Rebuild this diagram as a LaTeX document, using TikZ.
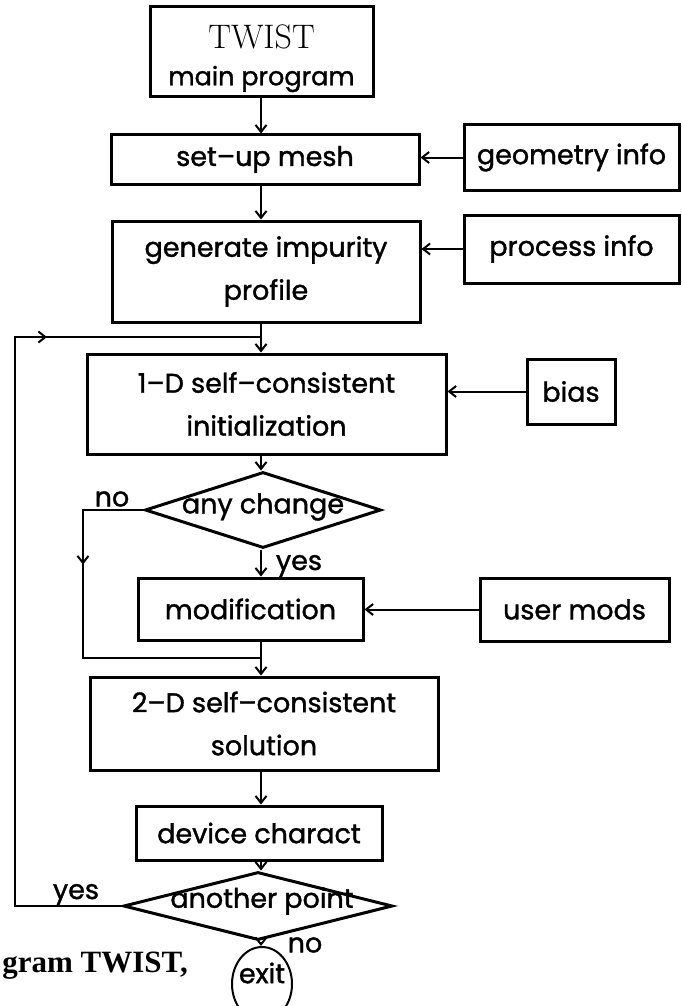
\documentclass[tikz,border=0pt]{standalone}
\usepackage{fontspec}
\setsansfont{Poppins}[FakeBold=1.3]
\newfontfamily\capfont{Liberation Serif}
\usetikzlibrary{arrows.meta,shapes.geometric,decorations.markings}
\begin{document}
\begin{tikzpicture}[x=1pt,y=-1pt,
  box/.style={draw, line width=3pt, inner sep=0pt, align=center,
    font=\sffamily\fontsize{27}{43}\selectfont},
  dia/.style={draw, diamond, line width=3pt, inner sep=0pt},
  txt/.style={inner sep=0pt, font=\sffamily\fontsize{27}{30}\selectfont},
  conn/.style={line width=2pt, -{Straight Barb[length=7pt,width=11pt]}},
  plain/.style={line width=2pt},
  midtip/.style={postaction=decorate, decoration={markings,
    mark=at position #1 with {\arrow{Straight Barb[length=7pt,width=11pt]}}}}]
\useasboundingbox (0,0) rectangle (681,1006);
\clip (0,0) rectangle (681,1006);

% main column
\node[box, minimum width=223pt, minimum height=90pt] (twist) at (261.5,52) {};
\node[inner sep=0pt, font=\fontsize{34}{34}\selectfont] (twistT) at (261.5,37) {TWIST};
\node[txt, font=\sffamily\fontsize{25.5}{30}\selectfont] (twistM) at (261.5,79) {main program};
\node[box, minimum width=308pt, minimum height=49pt] (setup) at (265,159.5) {set–up mesh};
\node[box, minimum width=308pt, minimum height=101pt] (gen) at (266,271.5) {generate impurity\\profile};
\node[box, minimum width=359pt, minimum height=100pt] (oned) at (266.5,404) {1–D self–consistent\\initialization};
\node[dia, minimum width=236pt, minimum height=76pt] (anychg) at (263,510) {};
\node[txt] (anychgT) at (263,507) {any change};
\node[box, minimum width=225pt, minimum height=62pt] (modif) at (250.5,609) {modification};
\node[box, minimum width=348pt, minimum height=93pt] (twod) at (264,723.5) {2–D self–consistent\\solution};
\node[box, minimum width=246pt, minimum height=54pt] (device) at (259,833) {device charact};
\node[dia, minimum width=269pt, minimum height=68pt] (another) at (258,906) {};
\node[txt] (anotherT) at (262,901) {another point};
\node[draw, ellipse, line width=2pt, minimum width=60pt, minimum height=74pt, inner sep=0pt] (exit) at (262,984) {};
\node[txt] (exitT) at (262,973) {exit};

% side inputs
\node[box, minimum width=215pt, minimum height=65pt] (geo) at (571.5,157.5) {geometry info};
\node[box, minimum width=215pt, minimum height=68pt] (proc) at (571.5,249) {process info};
\node[box, minimum width=88pt, minimum height=65pt] (bias) at (571,391.5) {bias};
\node[box, minimum width=189pt, minimum height=63pt] (umods) at (574.5,609.5) {user mods};

% labels
\node[txt] (lno1) at (112,499) {no};
\node[txt] (lyes1) at (299,566) {yes};
\node[txt] (lyes2) at (76,895) {yes};
\node[txt] (lno2) at (305,945) {no};
\node[anchor=base east, inner sep=0pt, font=\capfont\bfseries\fontsize{31}{31}\selectfont] (cap) at (188,972) {gram TWIST,};

% coordinates
\coordinate (col) at (261,0);
\coordinate (loopL) at (15,337);
\coordinate (loopJ) at (261,337);
\coordinate (noB) at (83,658);
\coordinate (merge) at (261,658);

% connectors
\draw[conn] (twist.south -| col) -- (setup.north -| col);
\draw[conn] (setup.south -| col) -- (gen.north -| col);
\draw[conn] (geo.west) -- (geo.west -| setup.east);
\draw[conn] (proc.west) -- (proc.west -| gen.east);
\draw[conn] (gen.south -| col) -- (oned.north -| col);
\draw[plain, midtip=708pt] (another.west) -| (loopL) -- (loopJ);
\draw[conn] (bias.west) -- (bias.west -| oned.east);
\draw[conn] (oned.south -| col) -- (anychg.north -| col);
\draw[plain, midtip=115pt] (anychg.west) -| (noB) -- (merge);
\draw[conn] (anychg.south -| col) -- (modif.north -| col);
\draw[conn] (umods.west) -- (umods.west -| modif.east);
\draw[plain] (modif.south -| col) -- (merge);
\draw[conn] (merge) -- (twod.north -| col);
\draw[conn] (twod.south -| col) -- (device.north -| col);
\draw[conn] (device.south -| col) -- (another.north -| col);
\draw[conn] (another.south -| col) -- (exit.north -| col);
\end{tikzpicture}
\end{document}
